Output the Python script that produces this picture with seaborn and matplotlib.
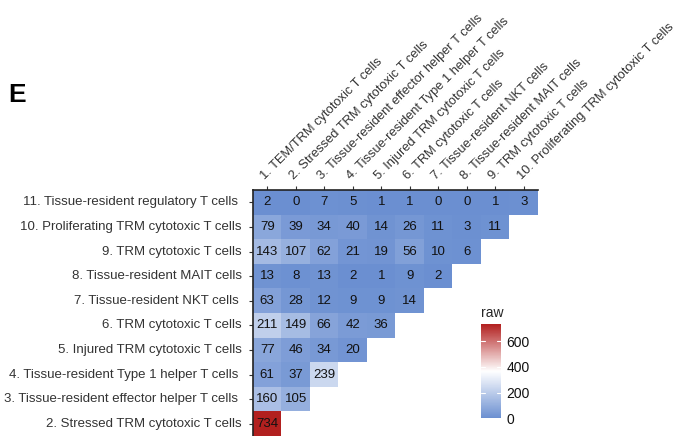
import numpy as np
import pandas as pd
import matplotlib
matplotlib.use('Agg')
import matplotlib.pyplot as plt
from matplotlib.colors import LinearSegmentedColormap
import seaborn as sns

# ── Data ───────────────────────────────────────────────────────────────────────
col_labels = [
    '1. TEM/TRM cytotoxic T cells',
    '2. Stressed TRM cytotoxic T cells',
    '3. Tissue-resident effector helper T cells',
    '4. Tissue-resident Type 1 helper T cells',
    '5. Injured TRM cytotoxic T cells',
    '6. TRM cytotoxic T cells',
    '7. Tissue-resident NKT cells',
    '8. Tissue-resident MAIT cells',
    '9. TRM cytotoxic T cells',
    '10. Proliferating TRM cytotoxic T cells',
]
row_labels = [
    '11. Tissue-resident regulatory T cells ',
    '10. Proliferating TRM cytotoxic T cells',
    '9. TRM cytotoxic T cells',
    '8. Tissue-resident MAIT cells',
    '7. Tissue-resident NKT cells ',
    '6. TRM cytotoxic T cells',
    '5. Injured TRM cytotoxic T cells',
    '4. Tissue-resident Type 1 helper T cells ',
    '3. Tissue-resident effector helper T cells ',
    '2. Stressed TRM cytotoxic T cells',
]
row11 = [2, 0, 7, 5, 1, 1, 0, 0, 1, 3]
row10 = [79, 39, 34, 40, 14, 26, 11, 3, 11]
row9 = [143, 107, 62, 21, 19, 56, 10, 6]
row8 = [13, 8, 13, 2, 1, 9, 2]
row7 = [63, 28, 12, 9, 9, 14]
row6 = [211, 149, 66, 42, 36]
row5 = [77, 46, 34, 20]
row4 = [61, 37, 239]
row3 = [160, 105]
row2 = [734]

rows = [row11, row10, row9, row8, row7, row6, row5, row4, row3, row2]
mat = np.full((len(rows), len(col_labels)), np.nan)
for i, r in enumerate(rows):
    mat[i, :len(r)] = r
df = pd.DataFrame(mat, index=row_labels, columns=col_labels)

# ── Plot ───────────────────────────────────────────────────────────────────────
sns.set_style('white')
plt.rcParams['font.family'] = ['Liberation Sans', 'DejaVu Sans']

cmap = LinearSegmentedColormap.from_list('blwr', ['#6b8fd1', '#ffffff', '#b2201f'])
vmax = 734
fs = 9.5

fig = plt.figure(figsize=(6.79, 4.36), dpi=100)
ax = fig.add_axes([0.3726, 0.0, 0.4197, 0.5642])
cax = fig.add_axes([0.708, 0.041, 0.0295, 0.2156])

sns.heatmap(df, mask=df.isna(), cmap=cmap, vmin=0, vmax=vmax, annot=True, fmt='.0f',
            annot_kws={'size': fs, 'color': '#111111'}, ax=ax, cbar_ax=cax,
            cbar_kws={'ticks': [0, 200, 400, 600]}, linewidths=0)

ax.xaxis.tick_top()
ax.set_xticklabels(col_labels, rotation=45, ha='left', rotation_mode='anchor',
                   fontsize=fs - 0.2, color='#333333')
ax.set_yticklabels(row_labels, rotation=0, fontsize=fs, color='#333333')
ax.tick_params(axis='both', length=3, color='#333333', width=0.8)
ax.tick_params(axis='x', top=True, bottom=False, pad=3)
ax.tick_params(axis='y', left=True, pad=5)
ax.set_xlabel('')
ax.set_ylabel('')
for side in ['top', 'left']:
    ax.spines[side].set_visible(True)
    ax.spines[side].set_color('#222222')
    ax.spines[side].set_linewidth(1.2)

cb = ax.collections[0].colorbar
cb.outline.set_visible(False)
cb.ax.tick_params(length=0, labelsize=10, colors='#111111', pad=4)
for t in [200, 400, 600]:
    cax.axhline(t, color='white', lw=0.8, xmin=0, xmax=0.2)
    cax.axhline(t, color='white', lw=0.8, xmin=0.8, xmax=1)
cax.set_title('raw', fontsize=10, loc='left', pad=5)

fig.text(0.012, 0.765, 'E', fontsize=19, fontweight='bold', color='black')

plt.savefig('out.png', dpi=100)
plt.close()
